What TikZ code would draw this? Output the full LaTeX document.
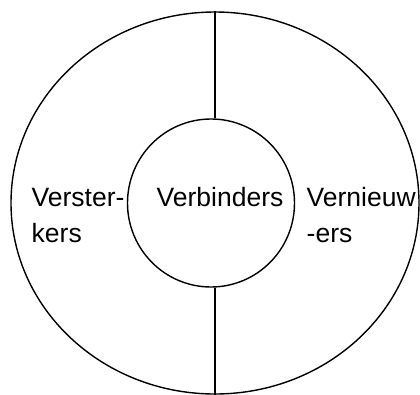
\documentclass[tikz,border=0pt]{standalone}
\usepackage{fontspec}
\setmainfont{Liberation Sans}
\usetikzlibrary{shapes.geometric}

\begin{document}
\begin{tikzpicture}[x=1pt, y=-1pt, line width=1.4pt,
    ring/.style={draw, ellipse, inner sep=0pt},
    label/.style={inner sep=0pt, anchor=base west, align=left,
        font=\fontsize{26.5}{36}\selectfont}]
    \useasboundingbox (0,0) rectangle (420,394);

    % outer ring and inner circle
    \node[ring, minimum width=408pt, minimum height=382pt] (outer) at (215,203) {};
    \node[ring, minimum width=167pt, minimum height=168pt] (inner) at (211,203) {};

    % dividing lines
    \draw (outer.north) -- (outer.north |- inner.north);
    \draw (outer.south |- inner.south) -- (outer.south);

    % labels
    \node[label] (verbinders) at (156,206) {Verbinders};
    \node[label] (versterkers) at (31,242) {Verster-\\kers};
    \node[label] (vernieuwers) at (306,242) {Vernieuw\\-ers};
\end{tikzpicture}
\end{document}
